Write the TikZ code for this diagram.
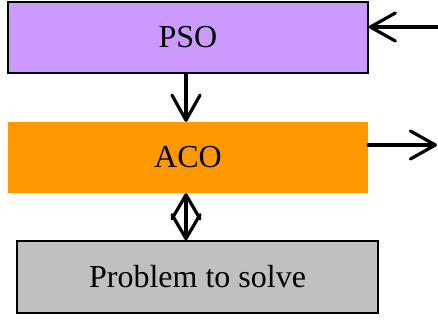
\documentclass[tikz,border=0pt]{standalone}
\usepackage{fontspec}
\setmainfont{Liberation Serif}
\usetikzlibrary{arrows.meta}
\definecolor{psoviolet}{HTML}{CC99FF}
\definecolor{acoorange}{HTML}{FF9900}
\definecolor{probgray}{HTML}{C0C0C0}
\begin{document}
\begin{tikzpicture}[x=1pt, y=1pt,
		box/.style={minimum width=360pt, minimum height=71pt, inner sep=0pt, font=\fontsize{32}{36}\selectfont},
		flow/.style={line width=3.2pt, line cap=round, -{Straight Barb[length=25pt, width=28pt, line width=3.2pt, round]}},
		twoway/.style={line width=3.2pt, line cap=round, {Straight Barb[length=24pt, width=28pt, line width=3.2pt, round]}-{Straight Barb[length=24pt, width=28pt, line width=3.2pt, round]}}]
			\useasboundingbox (0,0) rectangle (438,322);
			\node[box, fill=psoviolet, draw=black, line width=1.5pt] (pso) at (188,284.5) {PSO};
			\node[box, fill=acoorange] (aco) at (188,164.5) {ACO};
			\node[box, fill=probgray, draw=black, line width=1.5pt, minimum width=361pt, minimum height=72pt] (prob) at (197.5,45) {Problem to solve};
			\coordinate (inR) at (440,295);
			\coordinate (outR) at (437,177);
			\draw[flow] ([xshift=-2pt]pso.south) -- ([xshift=-2pt]aco.north);
			\draw[twoway] ([xshift=-2pt]aco.south) -- ([xshift=-2pt]aco.south |- prob.north);
			\draw[flow] (inR) -- (pso.east |- inR);
			\draw[flow] (aco.east |- outR) -- (outR);
		\end{tikzpicture}
\end{document}
